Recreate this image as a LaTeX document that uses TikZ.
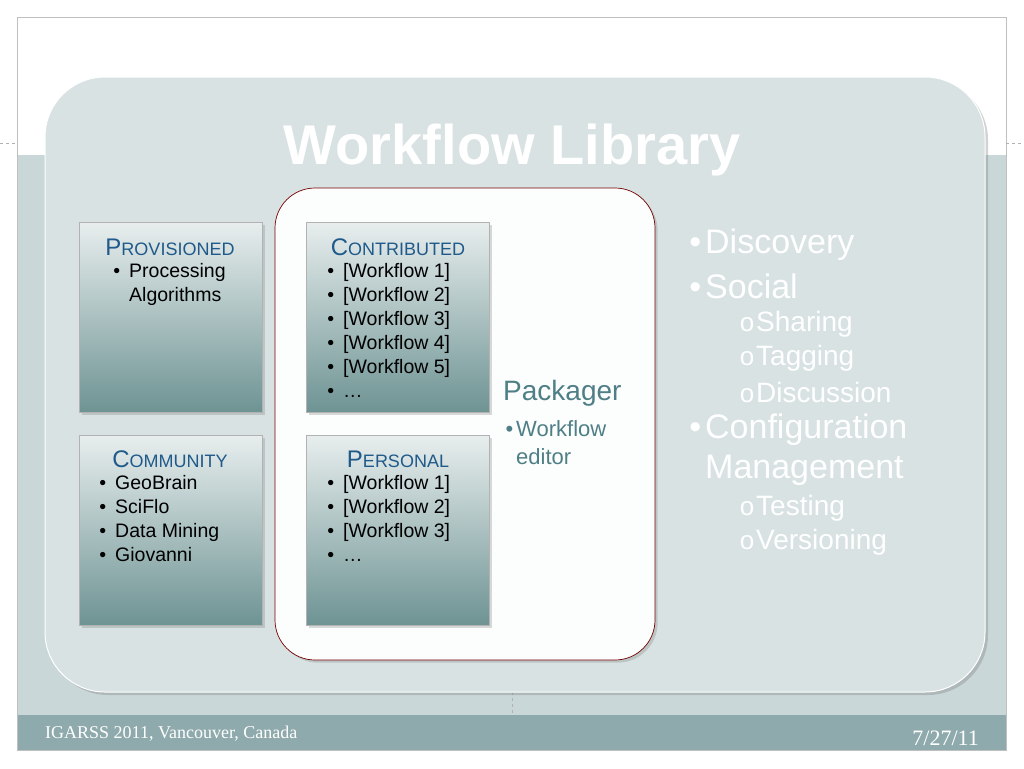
\documentclass[tikz,border=0pt]{standalone}
\usepackage{fontspec}
\setmainfont{Liberation Sans}
\newfontfamily\serifx{Liberation Serif}
\usetikzlibrary{shadows}
\definecolor{bandc}{HTML}{C9D7D9}
\definecolor{cardc}{HTML}{D8E2E2}
\definecolor{footc}{HTML}{8FAAAC}
\definecolor{headc}{HTML}{1F5A8A}
\definecolor{packc}{HTML}{4F7F86}
\definecolor{boxdark}{HTML}{6E9393}
\begin{document}
\begin{tikzpicture}[x=1pt,y=-1pt,
  box/.style={draw=gray!60,line width=0.8pt,top color=cardc!60!white,bottom color=boxdark,minimum width=183pt,minimum height=190pt,anchor=north west,drop shadow={opacity=0.3}},
  txt/.style={font=\fontsize{19.5}{24}\selectfont,align=left,anchor=north west,inner sep=0pt},
  hd/.style={font=\fontsize{24}{28}\selectfont,text=headc,inner sep=0pt},
  rt/.style={text=white,anchor=west,inner sep=0pt}]
\useasboundingbox (0,0) rectangle (1024,768);
\fill[white] (0,0) rectangle (1024,768);
\fill[bandc] (17,155) rectangle (1006,715);
\fill[footc] (17,715) rectangle (1006,750);
\draw[gray!50] (17,17) rectangle (1006,750);
\draw[gray!60,dashed] (0,143) -- (17,143) (1006,143) -- (1024,143);
\draw[gray!60,dashed] (512,692) -- (512,715);
\node[rt,font=\serifx\fontsize{18}{20}\selectfont] (foot) at (45,734) {IGARSS 2011, Vancouver, Canada};
\node[rt,anchor=east,font=\serifx\fontsize{22}{24}\selectfont] (date) at (979,738) {7/27/11};
\fill[cardc,draw=white,line width=1pt,rounded corners=60pt,drop shadow={opacity=0.35,shadow xshift=3pt,shadow yshift=-3pt}] (45,77) rectangle (985,692);
\node[font=\bfseries\fontsize{56}{58}\selectfont,text=white] (title) at (512,150) {Workflow Library};
\fill[white!92!cardc,draw=red!45!black,line width=0.7pt,rounded corners=40pt,drop shadow={opacity=0.3}] (275,188) rectangle (655,660);
\node[box] (prov) at (79,222) {};
\node[box] (cont) at (306,222) {};
\node[box] (comm) at (79,435) {};
\node[box] (pers) at (306,435) {};
\node[hd] (provh) at (170,247) {P{\fontsize{18}{22}\selectfont ROVISIONED}};
\node[hd] (conth) at (398,247) {C{\fontsize{18}{22}\selectfont ONTRIBUTED}};
\node[hd] (commh) at (170,459) {C{\fontsize{18}{22}\selectfont OMMUNITY}};
\node[hd] (persh) at (398,459) {P{\fontsize{18}{22}\selectfont ERSONAL}};
\node[txt] (provt) at (129,263) {\llap{•\hspace{9pt}}Processing\\Algorithms};
\node[txt] (contt) at (343,263) {\llap{•\hspace{9pt}}[Workflow 1]\\\llap{•\hspace{9pt}}[Workflow 2]\\\llap{•\hspace{9pt}}[Workflow 3]\\\llap{•\hspace{9pt}}[Workflow 4]\\\llap{•\hspace{9pt}}[Workflow 5]\\\llap{•\hspace{9pt}}…};
\node[txt] (commt) at (115,475) {\llap{•\hspace{9pt}}GeoBrain\\\llap{•\hspace{9pt}}SciFlo\\\llap{•\hspace{9pt}}Data Mining\\\llap{•\hspace{9pt}}Giovanni};
\node[txt] (perst) at (343,475) {\llap{•\hspace{9pt}}[Workflow 1]\\\llap{•\hspace{9pt}}[Workflow 2]\\\llap{•\hspace{9pt}}[Workflow 3]\\\llap{•\hspace{9pt}}…};
\node[anchor=west,inner sep=0pt,text=packc,font=\fontsize{28}{30}\selectfont] (pack) at (503,393) {Packager};
\node[txt,text=packc,font=\fontsize{22}{28}\selectfont] (packt) at (516,420) {\llap{•\hspace{3pt}}Workflow\\editor};
\begin{scope}[font=\fontsize{34}{36}\selectfont]
\node[rt] (r1) at (705,245) {\llap{•\hspace{4pt}}Discovery};
\node[rt] (r2) at (705,286) {\llap{•\hspace{4pt}}Social};
\node[rt] (r6) at (705,430) {\llap{•\hspace{4pt}}Configuration};
\node[rt] (r7) at (705,470) {Management};
\end{scope}
\begin{scope}[font=\fontsize{28}{30}\selectfont]
\node[rt] (r3) at (756,324) {\llap{\fontsize{26}{26}\selectfont o\hspace{2pt}}Sharing};
\node[rt] (r4) at (756,358) {\llap{\fontsize{26}{26}\selectfont o\hspace{2pt}}Tagging};
\node[rt] (r5) at (756,392) {\llap{\fontsize{26}{26}\selectfont o\hspace{2pt}}Discussion};
\node[rt] (r8) at (756,508) {\llap{\fontsize{26}{26}\selectfont o\hspace{2pt}}Testing};
\node[rt] (r9) at (756,542) {\llap{\fontsize{26}{26}\selectfont o\hspace{2pt}}Versioning};
\end{scope}
\end{tikzpicture}
\end{document}
